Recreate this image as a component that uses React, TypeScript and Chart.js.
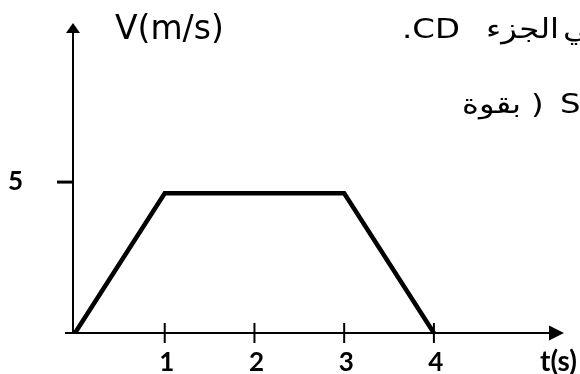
import React, { useEffect, useRef } from "react";
import { Chart, registerables } from "chart.js";

Chart.register(...registerables);

// ---- data ----
const timeValues = [0, 1, 3, 4];
const speedValues = [0, 4.63, 4.63, 0];
const xTickValues = [1, 2, 3, 4];
const xTickLabels = ["1", "2", "3", "4"];
const yTickValues = [5];
const yTickLabels = ["5"];
const xAxisTitle = "t(s)";
const yAxisTitle = "V(m/s)";
const textLine1 = [".CD", "الجزء", "في"];
const textLine2 = ["بقوة", ")", "S"];

const BLACK = "#000000";

function stretchedText(
  ctx: CanvasRenderingContext2D,
  text: string,
  x: number,
  y: number,
  align: CanvasTextAlign,
  sx: number,
  rtl = false
) {
  ctx.save();
  ctx.translate(x, y);
  ctx.scale(sx, 1);
  ctx.direction = rtl ? "rtl" : "ltr";
  ctx.textAlign = align;
  ctx.textBaseline = "alphabetic";
  ctx.fillText(text, 0, 0);
  ctx.restore();
}

const arrowAxesPlugin = {
  id: "arrowAxes",
  beforeDatasetsDraw(chart: any) {
    const { ctx, chartArea } = chart;
    const xs = chart.scales.x;
    const ys = chart.scales.y;
    const x0 = xs.getPixelForValue(0);
    const y0 = ys.getPixelForValue(0);
    const axisX = x0 - 2;
    ctx.save();
    ctx.strokeStyle = BLACK;
    ctx.fillStyle = BLACK;
    ctx.lineWidth = 2;
    ctx.lineCap = "butt";

    // y axis + arrow
    ctx.beginPath();
    ctx.moveTo(axisX, y0 + 1);
    ctx.lineTo(axisX, chartArea.top + 8);
    ctx.stroke();
    ctx.beginPath();
    ctx.moveTo(axisX, chartArea.top);
    ctx.lineTo(axisX - 7, chartArea.top + 10);
    ctx.lineTo(axisX + 7, chartArea.top + 10);
    ctx.closePath();
    ctx.fill();

    // x axis + arrow
    ctx.beginPath();
    ctx.moveTo(axisX - 8, y0);
    ctx.lineTo(chartArea.right - 12, y0);
    ctx.stroke();
    ctx.beginPath();
    ctx.moveTo(chartArea.right, y0);
    ctx.lineTo(chartArea.right - 15, y0 - 7.5);
    ctx.lineTo(chartArea.right - 15, y0 + 7.5);
    ctx.closePath();
    ctx.fill();

    // x ticks crossing the axis
    ctx.lineWidth = 2;
    xTickValues.forEach((v) => {
      const px = xs.getPixelForValue(v);
      ctx.beginPath();
      ctx.moveTo(px, y0 - 10);
      ctx.lineTo(px, y0 + 10);
      ctx.stroke();
    });

    // y ticks (left side only)
    ctx.lineWidth = 3;
    yTickValues.forEach((v) => {
      const py = ys.getPixelForValue(v);
      ctx.beginPath();
      ctx.moveTo(axisX - 16, py);
      ctx.lineTo(axisX, py);
      ctx.stroke();
    });
    ctx.restore();
  },
  afterDraw(chart: any) {
    const { ctx, chartArea } = chart;
    const xs = chart.scales.x;
    const ys = chart.scales.y;
    const x0 = xs.getPixelForValue(0);
    const y0 = ys.getPixelForValue(0);
    ctx.save();
    ctx.fillStyle = BLACK;
    ctx.textBaseline = "alphabetic";

    // tick labels
    ctx.font = "bold 26px Lato";
    ctx.textAlign = "center";
    xTickValues.forEach((v, i) => {
      ctx.fillText(xTickLabels[i], xs.getPixelForValue(v) + 2, y0 + 38);
    });
    ctx.textAlign = "right";
    yTickValues.forEach((v, i) => {
      ctx.fillText(yTickLabels[i], x0 - 52, ys.getPixelForValue(v) + 8);
    });

    // axis titles
    ctx.font = "bold 28px Lato";
    ctx.textAlign = "left";
    ctx.fillText(xAxisTitle, chartArea.right - 24, y0 + 38);
    ctx.font = "33px 'DejaVu Sans'";
    ctx.fillText(yAxisTitle, x0 + 40, 39);

    // surrounding document text (cropped)
    ctx.font = "27px 'DejaVu Sans'";
    const sx = 1.2;
    stretchedText(ctx, textLine1[0], 402, 38, "left", sx);
    stretchedText(ctx, textLine1[1], 559, 38, "right", sx, true);
    stretchedText(ctx, textLine1[2], 563, 38, "left", sx, true);
    stretchedText(ctx, textLine2[0], 462, 113, "left", sx, true);
    stretchedText(ctx, textLine2[1], 531, 113, "left", sx);
    stretchedText(ctx, textLine2[2], 560, 113, "left", sx);
    ctx.restore();
  },
};

export default function App() {
  const canvasRef = useRef<HTMLCanvasElement | null>(null);

  useEffect(() => {
    const canvas = canvasRef.current;
    if (!canvas) return;
    const chart = new Chart(canvas, {
      type: "line",
      data: {
        datasets: [
          {
            data: timeValues.map((t, i) => ({ x: t, y: speedValues[i] })),
            borderColor: BLACK,
            borderWidth: 4.5,
            borderJoinStyle: "miter",
            borderCapStyle: "butt",
            pointRadius: 0,
            tension: 0,
            fill: false,
            clip: false as any,
          },
        ],
      },
      options: {
        responsive: false,
        animation: false,
        devicePixelRatio: 1,
        events: [],
        layout: { padding: { left: 75, right: 16, top: 23, bottom: 41 } },
        scales: {
          x: { type: "linear", min: 0, max: 5.45, display: false },
          y: { type: "linear", min: 0, max: 10.27, display: false },
        },
        plugins: {
          legend: { display: false },
          tooltip: { enabled: false },
          title: { display: false },
        },
      },
      plugins: [arrowAxesPlugin],
    });
    return () => chart.destroy();
  }, []);

  return (
    <div
      style={{
        position: "fixed",
        left: 0,
        top: 0,
        width: 580,
        height: 374,
        overflow: "hidden",
        background: "#ffffff",
      }}
    >
      <canvas ref={canvasRef} width={580} height={374} style={{ display: "block" }} />
    </div>
  );
}
